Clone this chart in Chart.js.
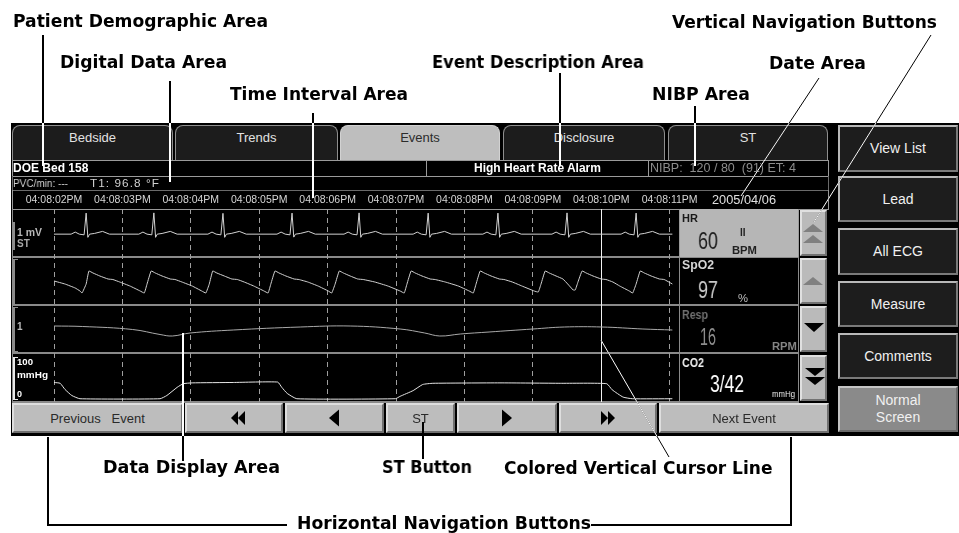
<!DOCTYPE html>
<html>
<head>
<meta charset="utf-8">
<title>Event review screen</title>
<script src="https://cdn.jsdelivr.net/npm/chart.js@4.4.1/dist/chart.umd.min.js"></script>
<style>
  html, body { margin: 0; padding: 0; background: #fff; }
  #page { position: relative; width: 959px; height: 533px; overflow: hidden; background: #fff; font-family: 'Liberation Sans', Arial, sans-serif; }
  .a { position: absolute; }
  .t { position: absolute; white-space: pre; height: 20px; line-height: 20px; transform-origin: left center; will-change: transform; }
  .ann { font-family: 'DejaVu Sans', sans-serif; font-weight: bold; font-size: 17px; color: #000; }
  .box { position: absolute; box-sizing: border-box; }
  .tab { position: absolute; top: 125px; height: 35px; box-sizing: border-box; border: 1px solid #8e8e8e; border-bottom: none; border-radius: 8px 8px 0 0; background: #1c1c1c; color: #e2e2e2; font-size: 13px; text-align: center; line-height: 24px; }
  .tab.on { background: #bebebe; color: #2c2c2c; border-color: #d2d2d2; }
  .rb { position: absolute; left: 838px; width: 120px; box-sizing: border-box; border: 2px solid; border-color: #b8b8b8 #7a7a7a #7a7a7a #b8b8b8; background: #1d1d1d; color: #f0f0f0; font-size: 14px; display: flex; align-items: center; justify-content: center; text-align: center; line-height: 17px; }
  .bb { position: absolute; top: 403px; height: 30px; box-sizing: border-box; border: 2px solid; border-color: #dedede #707070 #707070 #dedede; background: #bdbdbd; color: #2a2a2a; font-size: 13px; display: flex; align-items: center; justify-content: center; white-space: pre; }
  .nb { position: absolute; left: 800px; width: 27px; box-sizing: border-box; border: 2px solid; border-color: #e0e0e0 #727272 #727272 #e0e0e0; background: #bababa; }
  .sep { position: absolute; left: 12px; width: 786px; height: 2px; background: #8a8a8a; }
  .brk { position: absolute; left: 13px; width: 5px; box-sizing: border-box; border: 1px solid #8a8a8a; border-left-width: 2px; border-right: none; }
  .big { font-size: 24px; }
  .lbl { font-size: 10px; font-weight: bold; }
</style>
</head>
<body>
<div id="page">
  <!-- monitor screen -->
  <div class="box" style="left:11px;top:123px;width:948px;height:313px;background:#000"></div>

  <div class="tab" style="left:12px;width:161px">Bedside</div>
  <div class="tab" style="left:175px;width:163px">Trends</div>
  <div class="tab on" style="left:340px;width:160px">Events</div>
  <div class="tab" style="left:503px;width:162px">Disclosure</div>
  <div class="tab" style="left:668px;width:160px">ST</div>

  <!-- header rows -->
  <div class="box" style="left:12px;top:160px;width:817px;height:17px;border:1px solid #9a9a9a"></div>
  <div class="box" style="left:426px;top:160px;width:223px;height:17px;border-left:1px solid #9a9a9a;border-right:1px solid #9a9a9a"></div>
  <div class="box" style="left:12px;top:176px;width:817px;height:15px;border:1px solid #6a6a6a;border-top:none"></div>
  <div class="box" style="left:12px;top:190px;width:817px;height:20px;border:1px solid #9a9a9a;border-top:none"></div>

  <div class="t" style="left:13px;top:158px;color:#fff;font-size:12px;font-weight:bold" data-w="75">DOE Bed 158</div>
  <div class="t" style="left:426px;top:158px;width:223px;text-align:center;color:#fff;font-size:12px;font-weight:bold">High Heart Rate Alarm</div>
  <div class="t" style="left:650px;top:158px;color:#8c8c8c;font-size:12px" data-w="146">NIBP:  120 / 80  (91) ET: 4</div>
  <div class="t" style="left:13px;top:173px;color:#d0d0d0;font-size:11px" data-w="55">PVC/min: ---</div>
  <div class="t" style="left:90px;top:173px;color:#d0d0d0;font-size:11px;letter-spacing:1px" data-w="70">T1: 96.8 °F</div>
  <div class="t" style="left:712px;top:190px;color:#e0e0e0;font-size:12px" data-w="64">2005/04/06</div>

  <!-- waveform panels -->
  <div class="box" style="left:12px;top:209px;width:1px;height:194px;background:#8a8a8a"></div>
  <div class="sep" style="top:256px"></div>
  <div class="sep" style="top:304px"></div>
  <div class="sep" style="top:352px"></div>
  <div class="sep" style="top:401px"></div>

  <div class="box" style="left:13px;top:222px;width:2px;height:28px;background:#8c8c8c"></div>
  <div class="brk" style="top:259px;height:46px"></div>
  <div class="brk" style="top:307px;height:45px"></div>
  <div class="brk" style="top:357px;height:43px;border-color:#e8e8e8"></div>

  <div class="t lbl" style="left:17px;top:223px;color:#b8b8b8" data-w="25">1 mV</div>
  <div class="t lbl" style="left:17px;top:234px;color:#a8a8a8">ST</div>
  <div class="t lbl" style="left:17px;top:317px;color:#b8b8b8">1</div>
  <div class="t lbl" style="left:17px;top:352px;color:#fff;font-size:9px" data-w="16">100</div>
  <div class="t lbl" style="left:17px;top:365px;color:#fff;font-size:9px" data-w="31">mmHg</div>
  <div class="t lbl" style="left:17px;top:384px;color:#fff;font-size:9px">0</div>

  <!-- parameter boxes -->
  <div class="box" style="left:679px;top:209px;width:120px;height:48px;background:#b6b6b6;border-left:1px solid #9a9a9a;border-right:1px solid #9a9a9a"></div>
  <div class="box" style="left:679px;top:257px;width:120px;height:146px;border-left:1px solid #8a8a8a;border-right:1px solid #8a8a8a"></div>

  <div class="t" style="left:682px;top:208px;color:#1a1a1a;font-size:11px;font-weight:bold">HR</div>
  <div class="t big" style="left:698px;top:231px;color:#1e1e1e" data-w="20">60</div>
  <div class="t" style="left:740px;top:223px;color:#222;font-size:10px;font-weight:bold">II</div>
  <div class="t" style="left:732px;top:240px;color:#222;font-size:11px;font-weight:bold" data-w="25">BPM</div>

  <div class="t" style="left:682px;top:255px;color:#d6d6d6;font-size:12px;font-weight:bold" data-w="32">SpO2</div>
  <div class="t big" style="left:698px;top:280px;color:#c9c9c9" data-w="20">97</div>
  <div class="t" style="left:738px;top:288px;color:#bdbdbd;font-size:11px" data-w="10">%</div>

  <div class="t" style="left:682px;top:305px;color:#707070;font-size:12px;font-weight:bold" data-w="26">Resp</div>
  <div class="t big" style="left:700px;top:327px;color:#8d8d8d" data-w="16">16</div>
  <div class="t" style="left:772px;top:337px;color:#858585;font-size:10px;font-weight:bold" data-w="25">RPM</div>

  <div class="t" style="left:682px;top:353px;color:#f2f2f2;font-size:12px;font-weight:bold" data-w="22">CO2</div>
  <div class="t big" style="left:710px;top:374px;color:#fff" data-w="34">3/42</div>
  <div class="t" style="left:772px;top:384px;color:#f0f0f0;font-size:9px" data-w="23">mmHg</div>

  <!-- vertical navigation -->
  <div class="nb" style="top:210px;height:46px"></div>
  <div class="nb" style="top:258px;height:46px"></div>
  <div class="nb" style="top:306px;height:46px"></div>
  <div class="nb" style="top:355px;height:46px"></div>

  <!-- horizontal navigation -->
  <div class="bb" style="left:12px;width:171px">Previous   Event</div>
  <div class="bb" style="left:185px;width:98px"></div>
  <div class="bb" style="left:285px;width:99px"></div>
  <div class="bb" style="left:386px;width:69px">ST</div>
  <div class="bb" style="left:457px;width:100px"></div>
  <div class="bb" style="left:559px;width:98px"></div>
  <div class="bb" style="left:659px;width:170px">Next Event</div>

  <!-- side buttons -->
  <div class="rb" style="top:125px;height:47px">View List</div>
  <div class="rb" style="top:176px;height:46px">Lead</div>
  <div class="rb" style="top:228px;height:47px">All ECG</div>
  <div class="rb" style="top:281px;height:46px">Measure</div>
  <div class="rb" style="top:333px;height:46px">Comments</div>
  <div class="rb" style="top:386px;height:46px;background:#8a8a8a;border-color:#c4c4c4 #6a6a6a #6a6a6a #c4c4c4">Normal<br>Screen</div>

  <canvas id="waves" class="a" width="700" height="212" style="left:12px;top:190px"></canvas>

  <svg class="a" style="left:0;top:0" width="959" height="533">
    <defs><clipPath id="screen"><rect x="11" y="123" width="948" height="313"/></clipPath></defs>
    <g fill="#808080">
      <polygon points="803,232 823,232 813,224"/>
      <polygon points="803,243 823,243 813,235"/>
      <polygon points="803,285 823,285 813,277"/>
    </g>
    <g fill="#000">
      <polygon points="804,323 824,323 814,332"/>
      <polygon points="805,368 825,368 815,376"/>
      <polygon points="805,377 825,377 815,385"/>
      <polygon points="238,411 238,425 231,418"/>
      <polygon points="245,411 245,425 238,418"/>
      <polygon points="339,409.5 339,426.5 329,418"/>
      <polygon points="502,409.5 502,426.5 512,418"/>
      <polygon points="601,411 601,425 608,418"/>
      <polygon points="608,411 608,425 615,418"/>
    </g>
    <g stroke="#000" fill="none">
      <path stroke-width="2" d="M43 35V166 M170 81V182 M313 113V198 M560 73V166 M695 106V166 M183 333V461 M423 422V459"/>
      <path stroke-width="1" d="M819 78L741 196 M931 35L814 222 M601 340L669 457"/>
      <path stroke-width="2" d="M48 437V525H287 M591 525H791V437"/>
    </g>
    <g stroke="#fff" fill="none" clip-path="url(#screen)">
      <path stroke-width="2" d="M43 35V166 M170 81V182 M313 113V198 M560 73V166 M695 106V166 M183 333V461"/>
      <path stroke-width="1" d="M819 78L741 196 M931 35L814 222 M601 340L669 457"/>
    </g>
  </svg>

  <!-- callouts -->
  <div class="t ann" style="left:13px;top:11px" data-w="255">Patient Demographic Area</div>
  <div class="t ann" style="left:60px;top:52px" data-w="167">Digital Data Area</div>
  <div class="t ann" style="left:230px;top:84px" data-w="178">Time Interval Area</div>
  <div class="t ann" style="left:432px;top:52px" data-w="212">Event Description Area</div>
  <div class="t ann" style="left:652px;top:84px" data-w="98">NIBP Area</div>
  <div class="t ann" style="left:769px;top:53px" data-w="97">Date Area</div>
  <div class="t ann" style="left:672px;top:12px" data-w="265">Vertical Navigation Buttons</div>
  <div class="t ann" style="left:103px;top:457px" data-w="177">Data Display Area</div>
  <div class="t ann" style="left:382px;top:457px" data-w="90">ST Button</div>
  <div class="t ann" style="left:504px;top:458px" data-w="268">Colored Vertical Cursor Line</div>
  <div class="t ann" style="left:297px;top:513px" data-w="294">Horizontal Navigation Buttons</div>
</div>

<script>
// one label per second along the strip
const timeLabels = ['04:08:02PM', '04:08:03PM', '04:08:04PM', '04:08:05PM', '04:08:06PM',
  '04:08:07PM', '04:08:08PM', '04:08:09PM', '04:08:10PM', '04:08:11PM'];
const cursorTime = 8;

// [seconds, mV]
const ecgPoints = [
  [0, 0],
  [0.25, 0], [0.31, 0.09], [0.37, 0], [0.44, -0.03], [0.47, 0.92], [0.495, -0.14], [0.52, 0], [0.59, 0.03], [0.71, 0.12], [0.81, 0],
  [1.24, 0], [1.30, 0.09], [1.36, 0], [1.43, -0.03], [1.46, 0.93], [1.485, -0.14], [1.51, 0], [1.58, 0.03], [1.70, 0.12], [1.80, 0],
  [2.25, 0], [2.31, 0.09], [2.37, 0], [2.44, -0.03], [2.47, 0.91], [2.495, -0.14], [2.52, 0], [2.59, 0.03], [2.71, 0.12], [2.81, 0],
  [3.26, 0], [3.32, 0.09], [3.38, 0], [3.45, -0.03], [3.48, 0.92], [3.505, -0.13], [3.53, 0], [3.60, 0.03], [3.72, 0.12], [3.82, 0],
  [4.24, 0], [4.30, 0.09], [4.36, 0], [4.43, -0.03], [4.46, 0.93], [4.485, -0.14], [4.51, 0], [4.58, 0.03], [4.70, 0.12], [4.80, 0],
  [5.25, 0], [5.31, 0.09], [5.37, 0], [5.44, -0.03], [5.47, 0.92], [5.495, -0.14], [5.52, 0], [5.59, 0.03], [5.71, 0.12], [5.81, 0],
  [6.27, 0], [6.33, 0.09], [6.39, 0], [6.46, -0.03], [6.49, 0.92], [6.515, -0.14], [6.54, 0], [6.61, 0.03], [6.73, 0.12], [6.83, 0],
  [7.28, 0], [7.34, 0.09], [7.40, 0], [7.47, -0.03], [7.50, 0.93], [7.525, -0.14], [7.55, 0], [7.62, 0.03], [7.74, 0.12], [7.84, 0],
  [8.29, 0], [8.35, 0.09], [8.41, 0], [8.48, -0.03], [8.51, 0.92], [8.535, -0.14], [8.56, 0], [8.63, 0.03], [8.75, 0.12], [8.85, 0],
  [9.04, 0]
];

// pleth, arbitrary units
const plethPoints = [
  [0, 25], [0.16, 22], [0.31, 18], [0.38, 15], [0.41, 13], [0.47, 22], [0.51, 35],
  [0.57, 33], [0.67, 30], [0.79, 27], [0.86, 26.5], [0.96, 24], [1.11, 20], [1.26, 15], [1.32, 13], [1.36, 22], [1.42, 35],
  [1.48, 33], [1.58, 30], [1.70, 27], [1.77, 26.5], [1.87, 24], [2.02, 20], [2.16, 15], [2.22, 13], [2.27, 22], [2.32, 35],
  [2.38, 33], [2.49, 30], [2.60, 27], [2.68, 26.5], [2.78, 24], [2.92, 20], [3.07, 15], [3.13, 13], [3.17, 22], [3.23, 35],
  [3.29, 33], [3.39, 30], [3.51, 27], [3.58, 26.5], [3.71, 24], [3.86, 20], [4.01, 15], [4.06, 13], [4.11, 22], [4.17, 35],
  [4.23, 33], [4.33, 30], [4.44, 27], [4.52, 26.5], [4.69, 24], [4.88, 20], [5.06, 15], [5.12, 13], [5.16, 22], [5.22, 35],
  [5.28, 33], [5.38, 30], [5.50, 27], [5.57, 26.5], [5.72, 24], [5.91, 20], [6.07, 15], [6.13, 13], [6.17, 22], [6.23, 35],
  [6.29, 33], [6.39, 30], [6.51, 27], [6.58, 26.5], [6.70, 24], [6.84, 20], [7.02, 15], [7.08, 14], [7.12, 22], [7.18, 35],
  [7.24, 33], [7.34, 30], [7.44, 27], [7.51, 22], [7.59, 16], [7.62, 16], [7.66, 24], [7.72, 35],
  [7.78, 33], [7.88, 30], [8.00, 27], [8.07, 26.5], [8.17, 24], [8.27, 20], [8.41, 15], [8.46, 13], [8.51, 22], [8.57, 35],
  [8.63, 33], [8.73, 30], [8.85, 27], [8.92, 26.5], [9.04, 22]
];

const respPoints = [
  [0, 28], [0.42, 27.5], [1.15, 24.5], [1.55, 19.5], [1.73, 18], [1.99, 21], [2.62, 24], [3.60, 27],
  [4.33, 28], [5.06, 25], [5.42, 21], [5.64, 18], [5.94, 20], [6.36, 22], [7.00, 25], [7.46, 27],
  [8.01, 27], [8.61, 25], [9.04, 24]
];

// mmHg
const co2Points = [
  [0, 42], [0.09, 40], [0.16, 25], [0.26, 10], [0.38, 2], [1.55, 2], [1.65, 10], [1.80, 30], [1.89, 39],
  [2.02, 41], [2.62, 42], [3.27, 43], [3.33, 30], [3.41, 15], [3.55, 2], [4.99, 2], [5.06, 8], [5.25, 22],
  [5.39, 37], [5.54, 40], [6.52, 41], [7.40, 40], [8.08, 39], [8.16, 24], [8.32, 6], [8.46, 2], [9.04, 2]
];

// squeeze fixed-width labels to the widths on the screen
document.querySelectorAll('[data-w]').forEach((el) => {
  const w = el.getBoundingClientRect().width;
  el.style.transform = 'scaleX(' + (parseFloat(el.dataset.w) / w) + ')';
});

const trace = (data, axis, color, tension) => ({
  data,
  yAxisID: axis,
  borderColor: color,
  borderWidth: 1,
  pointRadius: 0,
  fill: false,
  tension
});

const panel = (weight, min, max) => ({
  type: 'linear',
  position: 'right',
  stack: 'panels',
  stackWeight: weight,
  min,
  max,
  display: false
});

const isCursor = (c) => c.tick && c.tick.value === cursorTime;

new Chart(document.getElementById('waves'), {
  type: 'line',
  data: {
    datasets: [
      trace(ecgPoints, 'ecg', '#d2d2d2', 0),
      trace(plethPoints, 'spo2', '#d2d2d2', 0.1),
      trace(respPoints, 'resp', '#a9a9a9', 0.4),
      trace(co2Points, 'co2', '#e6e6e6', 0.15)
    ]
  },
  options: {
    responsive: false,
    animation: false,
    events: [],
    layout: { padding: { left: 42, right: 33, top: 0, bottom: 0 } },
    plugins: {
      legend: { display: false },
      tooltip: { enabled: false }
    },
    scales: {
      x: {
        type: 'linear',
        position: 'top',
        min: 0,
        max: 9.137,
        afterFit: (scale) => { scale.height = 19; },
        ticks: {
          stepSize: 1,
          includeBounds: false,
          autoSkip: false,
          maxRotation: 0,
          padding: 3,
          color: '#d6d6d6',
          font: { family: 'Liberation Sans', size: 10.5 },
          callback: (v) => timeLabels[v]
        },
        grid: {
          drawTicks: false,
          color: (c) => isCursor(c) ? '#f2f2f2' : '#9e9e9e'
        },
        border: {
          display: false,
          dash: (c) => isCursor(c) ? [] : [5, 4]
        }
      },
      ecg: panel(48, -1.0, 1.1),
      spo2: panel(49, 0, 49),
      resp: panel(48, 0, 48),
      co2: panel(48, -6, 112)
    }
  }
});
</script>
</body>
</html>
